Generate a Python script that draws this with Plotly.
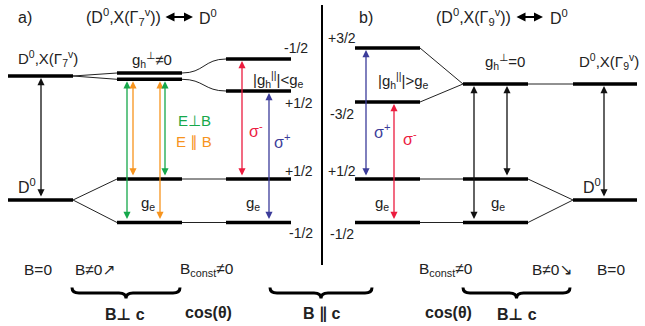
import plotly.graph_objects as go

# ---------------- data (diagram units: x = position, y = energy axis, downward) ----------------
# thick energy levels: (x_start, x_end, level)
level_x0 = [8, 117, 117, 226, 226, 8, 117, 117, 226, 226,
            355, 355, 463, 573, 355, 355, 463, 463, 573]
level_x1 = [73, 182, 182, 291, 291, 73, 182, 182, 291, 291,
            420, 420, 528, 637, 420, 420, 528, 528, 637]
level_y = [76, 73, 79.3, 59, 91, 200, 179, 222.5, 179, 222.5,
           48, 102, 84, 84, 179, 222.5, 179, 222.5, 200]

# straight thin connectors: (x0, y0, x1, y1)
conn_x0 = [73, 73, 73, 73, 182, 182, 420, 420, 528, 420, 420, 528, 528]
conn_y0 = [76, 76, 200, 200, 179, 222.5, 48, 102, 84, 179, 222.5, 179, 222.5]
conn_x1 = [117, 117, 117, 117, 226, 226, 463, 463, 573, 463, 463, 573, 573]
conn_y1 = [73, 79.3, 179, 222.5, 179, 222.5, 84, 84, 84, 179, 222.5, 200, 200]

# curved connectors (S-shape) panel a
curve_x0 = [182, 182]
curve_y0 = [73, 79.3]
curve_x1 = [226, 226]
curve_y1 = [59, 91]

# transitions: x, upper level, lower level, colour
tr_x = [41, 127, 133, 160, 165, 242, 269, 366, 394, 474, 507, 604]
tr_top = [76, 79.3, 79.3, 79.3, 79.3, 59, 91, 48, 102, 84, 84, 84]
tr_bot = [200, 222.5, 179, 222.5, 179, 179, 222.5, 179, 222.5, 222.5, 179, 200]
GREEN, ORANGE, RED, BLUE, BLACK = "#16a84b", "#f7941e", "#ec1c3f", "#3c3c9a", "#111111"
tr_col = [BLACK, GREEN, ORANGE, ORANGE, GREEN, RED, BLUE, BLUE, RED, BLACK, BLACK, BLACK]

# braces: x_start, x_end
brace_x0 = [72, 270, 463]
brace_x1 = [180, 372, 570]

# text labels: x, y, text, size, colour, anchor
TXT = "#222222"
lab_x = [25, 163, 208, 48, 152, 296, 278, 299, 194, 194, 256, 282, 299, 27, 148, 253, 301,
         366, 513, 559, 342, 403, 505, 609, 342, 382, 410, 342, 382, 498, 592, 342,
         38, 95, 207, 125, 208, 321, 446, 552, 611, 448, 517]
lab_y = [17, 17, 17, 58, 59, 48, 79, 103, 120, 142, 130, 141, 171, 186, 203, 203, 233,
         17, 17, 17, 38, 80, 61, 61, 114, 131, 138, 171, 203, 203, 186, 234,
         269, 269, 269, 314, 312, 314, 269, 269, 269, 312, 314]
lab_t = ["a)", "(D<sup>0</sup>,X(Γ<sub>7</sub><sup>v</sup>))", "D<sup>0</sup>",
         "D<sup>0</sup>,X(Γ<sub>7</sub><sup>v</sup>)", "g<sub>h</sub><sup>⊥</sup>≠0",
         "-1/2", "|g<sub>h</sub><sup>||</sup>|&lt;g<sub>e</sub>", "+1/2",
         "E⊥B", "E ∥ B", "σ<sup>-</sup>", "σ<sup>+</sup>", "+1/2", "D<sup>0</sup>",
         "g<sub>e</sub>", "g<sub>e</sub>", "-1/2",
         "b)", "(D<sup>0</sup>,X(Γ<sub>9</sub><sup>v</sup>))", "D<sup>0</sup>",
         "+3/2", "|g<sub>h</sub><sup>||</sup>|&gt;g<sub>e</sub>", "g<sub>h</sub><sup>⊥</sup>=0",
         "D<sup>0</sup>,X(Γ<sub>9</sub><sup>v</sup>)", "-3/2", "σ<sup>+</sup>", "σ<sup>-</sup>",
         "+1/2", "g<sub>e</sub>", "g<sub>e</sub>", "D<sup>0</sup>", "-1/2",
         "B=0", "B≠0↗", "B<sub>const</sub>≠0", "<b>B⊥ c</b>", "<b>cos(θ)</b>", "<b>B ∥ c</b>",
         "B<sub>const</sub>≠0", "B≠0↘", "B=0", "<b>cos(θ)</b>", "<b>B⊥ c</b>"]
lab_s = [16, 16, 16, 15, 15, 14, 15, 14, 15, 15, 16, 16, 14, 16, 15, 15, 14,
         16, 16, 16, 14, 15, 15, 15, 14, 16, 16, 14, 15, 15, 16, 14,
         15.5, 15.5, 15.5, 16, 16, 16, 15.5, 15.5, 15.5, 16, 16]
lab_c = [TXT] * 8 + [GREEN, ORANGE, RED, BLUE] + [TXT] * 13 + [BLUE, RED] + [TXT] * 16
lab_a = ["center"] * 43
lab_a[1] = "right"
lab_a[18] = "right"

# title double arrows: x_left, x_right, y
darrow_x0 = [164, 515]
darrow_x1 = [193, 543]
darrow_y = [17, 17]

FONT = "Arial, Liberation Sans, DejaVu Sans, sans-serif"

# ---------------- figure ----------------
fig = go.Figure()

xs, ys = [], []
for a, b, y in zip(level_x0, level_x1, level_y):
    xs += [a, b, None]
    ys += [y, y, None]
fig.add_trace(go.Scatter(x=xs, y=ys, mode="lines", line=dict(color="black", width=3.6),
                         hoverinfo="skip", showlegend=False))

xs, ys = [], []
for a, b, c, d in zip(conn_x0, conn_y0, conn_x1, conn_y1):
    xs += [a, c, None]
    ys += [b, d, None]
fig.add_trace(go.Scatter(x=xs, y=ys, mode="lines", line=dict(color="#222222", width=1),
                         hoverinfo="skip", showlegend=False))

shapes = []
for a, b, c, d in zip(curve_x0, curve_y0, curve_x1, curve_y1):
    m = (a + c) / 2
    shapes.append(dict(type="path", xref="x", yref="y",
                       path=f"M {a},{b} C {m},{b} {m},{d} {c},{d}",
                       line=dict(color="#222222", width=1)))

# divider
shapes.append(dict(type="line", xref="x", yref="y", x0=322, x1=322, y0=5, y1=265,
                   line=dict(color="black", width=2)))

# braces
for a, b in zip(brace_x0, brace_x1):
    y0, ym, yt = 287.5, 293, 298.5
    xm = (a + b) / 2
    r = 7
    p = (f"M {a},{y0} Q {a},{ym} {a + r},{ym} L {xm - r},{ym} Q {xm},{ym} {xm},{yt} "
         f"Q {xm},{ym} {xm + r},{ym} L {b - r},{ym} Q {b},{ym} {b},{y0}")
    shapes.append(dict(type="path", xref="x", yref="y", path=p,
                       line=dict(color="black", width=3)))

annotations = []
for x, t, b, c in zip(tr_x, tr_top, tr_bot, tr_col):
    annotations.append(dict(x=x, y=t, ax=x, ay=b, xref="x", yref="y", axref="x", ayref="y",
                            text="", showarrow=True, arrowside="end+start",
                            arrowhead=2, startarrowhead=2, arrowsize=1.1, startarrowsize=1.1,
                            arrowwidth=1.3, arrowcolor=c, standoff=2, startstandoff=2))

for a, b, y in zip(darrow_x0, darrow_x1, darrow_y):
    annotations.append(dict(x=b, y=y, ax=a, ay=y, xref="x", yref="y", axref="x", ayref="y",
                            text="", showarrow=True, arrowside="end+start",
                            arrowhead=2, startarrowhead=2, arrowsize=0.95, startarrowsize=0.95,
                            arrowwidth=1.9, arrowcolor="black"))

for x, y, t, s, c, an in zip(lab_x, lab_y, lab_t, lab_s, lab_c, lab_a):
    annotations.append(dict(x=x, y=y, xref="x", yref="y", text=t, showarrow=False,
                            xanchor=an, yanchor="middle",
                            font=dict(family=FONT, size=s, color=c)))

fig.update_layout(
    width=645, height=326, margin=dict(l=0, r=0, t=0, b=0),
    paper_bgcolor="white", plot_bgcolor="white",
    xaxis=dict(range=[0, 645], visible=False, fixedrange=True),
    yaxis=dict(range=[326, 0], visible=False, fixedrange=True),
    shapes=shapes, annotations=annotations, showlegend=False,
)

fig.write_html("out.html", config={"displayModeBar": False},
               post_script="document.body.style.margin='0';document.body.style.overflow='hidden';")
